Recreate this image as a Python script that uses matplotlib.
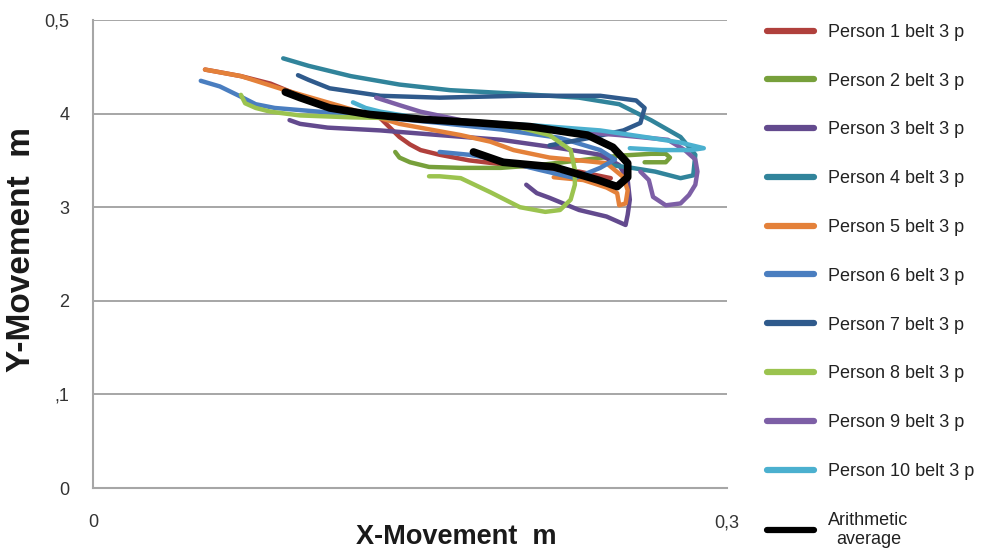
import matplotlib.pyplot as plt

plt.rcParams['font.family'] = ['Liberation Sans', 'DejaVu Sans']

# movement traces, x and y in metres
p1_x = [0.053, 0.058, 0.070, 0.084, 0.098, 0.117, 0.136, 0.145, 0.150, 0.155, 0.164, 0.178, 0.193, 0.211, 0.230, 0.245, 0.240]
p1_y = [0.447, 0.445, 0.440, 0.432, 0.419, 0.406, 0.395, 0.375, 0.367, 0.361, 0.356, 0.350, 0.346, 0.342, 0.338, 0.331, 0.326]

p2_x = [0.143, 0.145, 0.150, 0.159, 0.174, 0.193, 0.211, 0.230, 0.249, 0.264, 0.271, 0.273, 0.271, 0.261]
p2_y = [0.359, 0.353, 0.348, 0.343, 0.342, 0.342, 0.345, 0.350, 0.355, 0.357, 0.357, 0.353, 0.348, 0.348]

p3_x = [0.093, 0.098, 0.111, 0.136, 0.164, 0.193, 0.221, 0.240, 0.249, 0.253, 0.254, 0.253, 0.252, 0.243, 0.230, 0.216, 0.210, 0.205]
p3_y = [0.393, 0.389, 0.385, 0.382, 0.377, 0.372, 0.363, 0.356, 0.345, 0.329, 0.308, 0.292, 0.281, 0.290, 0.297, 0.310, 0.315, 0.324]

p4_x = [0.090, 0.102, 0.122, 0.145, 0.169, 0.202, 0.230, 0.249, 0.264, 0.278, 0.285, 0.284, 0.278, 0.266, 0.255, 0.245]
p4_y = [0.459, 0.451, 0.440, 0.431, 0.425, 0.421, 0.417, 0.410, 0.393, 0.375, 0.356, 0.334, 0.331, 0.338, 0.342, 0.345]

p5_x = [0.053, 0.070, 0.091, 0.117, 0.145, 0.174, 0.188, 0.199, 0.216, 0.230, 0.243, 0.251, 0.253, 0.252, 0.249, 0.248, 0.243, 0.232, 0.218]
p5_y = [0.447, 0.440, 0.425, 0.408, 0.389, 0.377, 0.370, 0.361, 0.353, 0.350, 0.347, 0.332, 0.318, 0.304, 0.302, 0.315, 0.321, 0.329, 0.332]

p6_x = [0.051, 0.060, 0.070, 0.077, 0.086, 0.107, 0.136, 0.164, 0.193, 0.221, 0.240, 0.247, 0.240, 0.228, 0.211, 0.193, 0.178, 0.164]
p6_y = [0.435, 0.429, 0.418, 0.410, 0.406, 0.402, 0.396, 0.390, 0.383, 0.374, 0.361, 0.351, 0.342, 0.331, 0.340, 0.350, 0.356, 0.359]

p7_x = [0.097, 0.102, 0.112, 0.136, 0.164, 0.202, 0.240, 0.257, 0.261, 0.259, 0.251, 0.235, 0.216]
p7_y = [0.441, 0.436, 0.427, 0.419, 0.417, 0.419, 0.419, 0.414, 0.406, 0.390, 0.382, 0.374, 0.366]

p8_x = [0.070, 0.072, 0.077, 0.084, 0.098, 0.122, 0.145, 0.174, 0.202, 0.216, 0.226, 0.228, 0.228, 0.226, 0.221, 0.214, 0.202, 0.188, 0.174, 0.164, 0.159]
p8_y = [0.420, 0.411, 0.406, 0.402, 0.398, 0.396, 0.395, 0.391, 0.385, 0.377, 0.361, 0.340, 0.324, 0.308, 0.297, 0.295, 0.300, 0.316, 0.331, 0.333, 0.333]

p9_x = [0.134, 0.145, 0.155, 0.174, 0.193, 0.221, 0.249, 0.272, 0.280, 0.285, 0.286, 0.285, 0.282, 0.278, 0.271, 0.265, 0.263, 0.259]
p9_y = [0.417, 0.409, 0.402, 0.393, 0.388, 0.382, 0.377, 0.372, 0.361, 0.351, 0.338, 0.324, 0.313, 0.304, 0.302, 0.311, 0.329, 0.338]

p10_x = [0.123, 0.129, 0.136, 0.155, 0.183, 0.211, 0.240, 0.264, 0.278, 0.289, 0.283, 0.269, 0.254]
p10_y = [0.412, 0.406, 0.402, 0.395, 0.391, 0.387, 0.382, 0.374, 0.369, 0.363, 0.361, 0.361, 0.363]

avg_x = [0.091, 0.098, 0.112, 0.131, 0.155, 0.183, 0.207, 0.234, 0.246, 0.253, 0.253, 0.248, 0.239, 0.218, 0.194, 0.180]
avg_y = [0.423, 0.417, 0.406, 0.399, 0.394, 0.390, 0.386, 0.377, 0.364, 0.347, 0.332, 0.322, 0.329, 0.343, 0.348, 0.359]

labels = ['Person %d belt 3 p' % i for i in range(1, 11)] + ['Arithmetic\naverage']
colors = ['#b0403c', '#77a03b', '#634a8e', '#31849b', '#e4813a',
          '#4a7ec0', '#2f5a8c', '#9bc34f', '#7d5fa6', '#4bb0cf', '#000000']

y_ticks = [0, 0.1, 0.2, 0.3, 0.4, 0.5]
y_ticklabels = ['0', ',1', '2', '3', '4', '0,5']
x_ticks = [0, 0.3]
x_ticklabels = ['0', '0,3']

traces = [(p1_x, p1_y), (p2_x, p2_y), (p3_x, p3_y), (p4_x, p4_y), (p5_x, p5_y),
          (p6_x, p6_y), (p7_x, p7_y), (p8_x, p8_y), (p9_x, p9_y), (p10_x, p10_y),
          (avg_x, avg_y)]

fig = plt.figure(figsize=(9.83, 5.5), dpi=100)
ax = fig.add_axes([0.0946, 0.1127, 0.645, 0.851])

for i, (xs, ys) in enumerate(traces):
    lw = 5.5 if i == 10 else 3.2
    ax.plot(xs, ys, color=colors[i], lw=lw, label=labels[i],
            solid_capstyle='round', solid_joinstyle='round', zorder=3 + (i == 10))

ax.set_xlim(0, 0.3)
ax.set_ylim(0, 0.5)
ax.set_yticks(y_ticks)
ax.set_yticklabels(y_ticklabels)
ax.set_xticks(x_ticks)
ax.set_xticklabels(x_ticklabels)
ax.tick_params(axis='both', length=0, labelsize=13, labelcolor='#333333')
ax.tick_params(axis='x', pad=19)
ax.tick_params(axis='y', pad=17)
ax.grid(axis='y', color='#a6a6a6', lw=1.4)
ax.set_axisbelow(True)
for s in ['top', 'right']:
    ax.spines[s].set_visible(False)
for s in ['left', 'bottom']:
    ax.spines[s].set_color('#a6a6a6')
    ax.spines[s].set_linewidth(1.5)

ax.set_xlabel('X-Movement  m', fontsize=19.5, fontweight='bold', color='#1a1a1a')
ax.xaxis.set_label_coords(0.573, -0.076)
ax.xaxis.label.set_va('top')
ax.set_ylabel('Y-Movement  m', fontsize=24, fontweight='bold', color='#1a1a1a')
ax.yaxis.set_label_coords(-0.088, 0.51)

leg = fig.legend(loc='upper left', bbox_to_anchor=(0.771, 0.973), frameon=False,
                 fontsize=13, labelspacing=1.76, handlelength=2.6,
                 handletextpad=0.8, borderpad=0)
for line in leg.get_lines():
    line.set_linewidth(4.5)
for t in leg.get_texts():
    t.set_multialignment('center')
    t.set_color('#222222')

fig.savefig('out.png', dpi=100)
